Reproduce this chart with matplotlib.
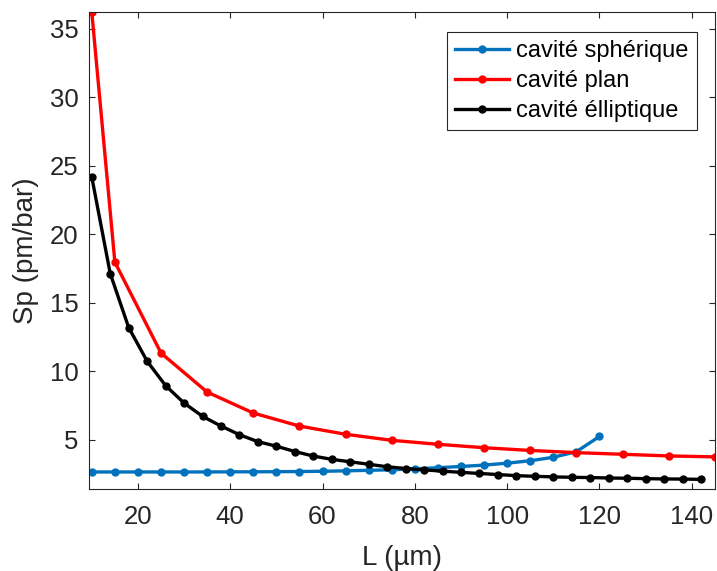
import numpy as np
import matplotlib
matplotlib.use("Agg")
import matplotlib.pyplot as plt

# Données
L_sph = [10, 15, 20, 25, 30, 35, 40, 45, 50, 55, 60, 65, 70, 75, 80, 85, 90, 95,
         100, 105, 110, 115, 120]
Sp_sph = [2.64, 2.64, 2.64, 2.64, 2.64, 2.64, 2.65, 2.65, 2.66, 2.67, 2.69, 2.72,
          2.76, 2.80, 2.87, 2.95, 3.04, 3.14, 3.28, 3.46, 3.71, 4.12, 5.23]

L_plan = [10, 15, 25, 35, 45, 55, 65, 75, 85, 95, 105, 115, 125, 135, 145]
Sp_plan = [36.2, 17.96, 11.32, 8.47, 6.94, 5.99, 5.39, 4.95, 4.66, 4.41, 4.21,
           4.05, 3.93, 3.81, 3.74]

L_ell = [10, 14, 18, 22, 26, 30, 34, 38, 42, 46, 50, 54, 58, 62, 66, 70, 74, 78,
         82, 86, 90, 94, 98, 102, 106, 110, 114, 118, 122, 126, 130, 134, 138, 142]
Sp_ell = [24.17, 17.12, 13.18, 10.72, 8.94, 7.67, 6.70, 5.99, 5.36, 4.85, 4.52,
          4.13, 3.80, 3.56, 3.38, 3.20, 3.02, 2.89, 2.79, 2.70, 2.61, 2.53, 2.45,
          2.37, 2.32, 2.28, 2.25, 2.23, 2.20, 2.18, 2.15, 2.13, 2.12, 2.10]

x_ticks = [20, 40, 60, 80, 100, 120, 140]
y_ticks = [5, 10, 15, 20, 25, 30, 35]

plt.rcParams['font.family'] = ['Liberation Sans', 'DejaVu Sans']

fig = plt.figure(figsize=(7.17, 5.71), dpi=100)
ax = fig.add_axes([0.1248, 0.143, 0.8722, 0.8355])

style = dict(linewidth=2.4, marker='o', markersize=5)
ax.plot(L_sph, Sp_sph, color='#0072BD', label='cavité sphérique', **style)
ax.plot(L_plan, Sp_plan, color='#FF0000', label='cavité plan', **style)
ax.plot(L_ell, Sp_ell, color='black', label='cavité élliptique', **style)

ax.set_xlim(9.5, 145)
ax.set_ylim(1.37, 36.2)
ax.set_xticks(x_ticks)
ax.set_yticks(y_ticks)

ax.tick_params(direction='in', length=4, width=0.8, top=True, right=True,
               labelsize=18.5, colors='#262626')
ax.tick_params(axis='x', pad=11)
ax.tick_params(axis='y', pad=8)
for sp in ax.spines.values():
    sp.set_color('#262626')
    sp.set_linewidth(0.8)

ax.set_xlabel('L (µm)', fontsize=20, color='#262626', labelpad=12)
ax.set_ylabel('Sp (pm/bar)', fontsize=20, color='#262626', labelpad=8)

leg = ax.legend(loc='upper right', bbox_to_anchor=(0.9712, 0.9587),
                borderaxespad=0, fontsize=17, fancybox=False, framealpha=1,
                edgecolor='#262626', handlelength=2.3, handletextpad=0.3,
                labelspacing=0.33, borderpad=0.35, numpoints=1)
leg.get_frame().set_linewidth(0.8)

fig.savefig('out.png', dpi=100)
